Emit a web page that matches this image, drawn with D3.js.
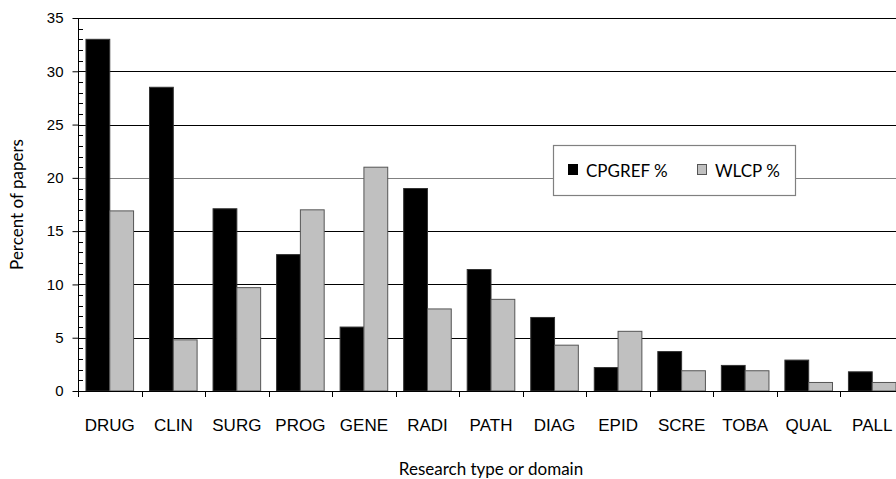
<!DOCTYPE html>
<html>
<head>
<meta charset="utf-8">
<script src="https://cdn.jsdelivr.net/npm/d3@7"></script>
<style>
  body { margin: 0; background: #fff; }
  svg { display: block; font-family: Lato, "Open Sans", sans-serif; }
</style>
</head>
<body>
<svg width="896" height="479"></svg>
<script>
const categories = ['DRUG', 'CLIN', 'SURG', 'PROG', 'GENE', 'RADI', 'PATH', 'DIAG', 'EPID', 'SCRE', 'TOBA', 'QUAL', 'PALL'];
const cpgref = [33.0, 28.5, 17.1, 12.8, 6.0, 19.0, 11.4, 6.9, 2.2, 3.7, 2.4, 2.9, 1.8];
const wlcp = [16.9, 4.8, 9.7, 17.0, 21.0, 7.7, 8.6, 4.3, 5.6, 1.9, 1.9, 0.8, 0.8];
const seriesNames = ['CPGREF %', 'WLCP %'];
const yTicks = [0, 5, 10, 15, 20, 25, 30, 35];

const svg = d3.select('svg');
const width = +svg.attr('width');

const margin = { left: 78, top: 18, bottom: 88 };
const plotRight = 904; // last category runs past the window edge
const y0 = 391;

const xScale = d3.scaleBand()
  .domain(categories)
  .range([margin.left, plotRight])
  .paddingInner(0)
  .paddingOuter(0);

const subScale = d3.scaleBand()
  .domain(seriesNames)
  .range([0, xScale.bandwidth()])
  .paddingOuter(0.335)
  .paddingInner(0);

const yScale = d3.scaleLinear()
  .domain([0, 35])
  .range([y0, margin.top]);

const colors = { 'CPGREF %': '#000000', 'WLCP %': '#c0c0c0' };

// gridlines
svg.append('g')
  .selectAll('line')
  .data(yTicks.filter(d => d > 0))
  .enter().append('line')
    .attr('x1', margin.left)
    .attr('x2', width)
    .attr('y1', d => Math.round(yScale(d)) + 0.5)
    .attr('y2', d => Math.round(yScale(d)) + 0.5)
    .attr('stroke', d => d === 20 ? '#808080' : '#000')
    .attr('stroke-width', 1.2);

// bars
const groups = svg.append('g')
  .selectAll('g')
  .data(categories)
  .enter().append('g')
    .attr('transform', d => `translate(${xScale(d)},0)`);

groups.selectAll('rect')
  .data((d, i) => [
    { key: 'CPGREF %', value: cpgref[i] },
    { key: 'WLCP %', value: wlcp[i] }
  ])
  .enter().append('rect')
    .attr('x', d => subScale(d.key))
    .attr('y', d => yScale(d.value))
    .attr('width', subScale.bandwidth())
    .attr('height', d => y0 - yScale(d.value))
    .attr('fill', d => colors[d.key])
    .attr('stroke', d => d.key === 'WLCP %' ? '#555' : '#333')
    .attr('stroke-width', 1);

// y axis
const yAxis = d3.axisLeft(yScale).tickValues(yTicks).tickSize(6).tickPadding(9).tickFormat(d3.format('d'));
const gy = svg.append('g')
  .attr('transform', `translate(${margin.left + 0.5},0)`)
  .call(yAxis);
gy.select('.domain').attr('stroke', '#000').attr('d', `M0,${margin.top}V${y0}`);
gy.selectAll('.tick line').attr('stroke', '#000');
gy.selectAll('text').attr('font-size', 15).attr('fill', '#000');

// minor ticks
svg.append('g')
  .selectAll('line')
  .data(d3.range(0, 36).filter(d => d % 5 !== 0))
  .enter().append('line')
    .attr('x1', margin.left)
    .attr('x2', margin.left + 5)
    .attr('y1', d => Math.round(yScale(d)) + 0.5)
    .attr('y2', d => Math.round(yScale(d)) + 0.5)
    .attr('stroke', '#000');

// x axis
const xAxis = d3.axisBottom(xScale).tickSize(0).tickPadding(27);
const gx = svg.append('g')
  .attr('transform', `translate(0,${y0 + 0.5})`)
  .call(xAxis);
gx.select('.domain').attr('stroke', '#000').attr('d', `M${margin.left},0H${width}`);
gx.selectAll('text').attr('font-size', 17).attr('fill', '#000');

// category boundary ticks
svg.append('g')
  .selectAll('line')
  .data(categories)
  .enter().append('line')
    .attr('x1', d => Math.round(xScale(d)) + 0.5)
    .attr('x2', d => Math.round(xScale(d)) + 0.5)
    .attr('y1', y0)
    .attr('y2', y0 + 6)
    .attr('stroke', '#000');

// axis titles
svg.append('text')
  .attr('x', (margin.left + plotRight) / 2)
  .attr('y', 475)
  .attr('text-anchor', 'middle')
  .attr('font-size', 17)
  .text('Research type or domain');

svg.append('text')
  .attr('transform', `translate(23,${(margin.top + y0) / 2}) rotate(-90)`)
  .attr('text-anchor', 'middle')
  .attr('font-size', 17)
  .text('Percent of papers');

// legend
const legend = svg.append('g').attr('transform', 'translate(553,145)');
legend.append('rect')
  .attr('x', 0.5).attr('y', 0.5)
  .attr('width', 242).attr('height', 50)
  .attr('fill', '#fff')
  .attr('stroke', '#808080')
  .attr('stroke-width', 1.2);

const legendX = [15, 144];
seriesNames.forEach((name, i) => {
  legend.append('rect')
    .attr('x', legendX[i] + 0.5).attr('y', 19.5)
    .attr('width', 9).attr('height', 10)
    .attr('fill', colors[name])
    .attr('stroke', i === 1 ? '#555' : '#000');
  legend.append('text')
    .attr('x', legendX[i] + 18)
    .attr('y', 31.5)
    .attr('font-size', 17)
    .text(name);
});
</script>
</body>
</html>
